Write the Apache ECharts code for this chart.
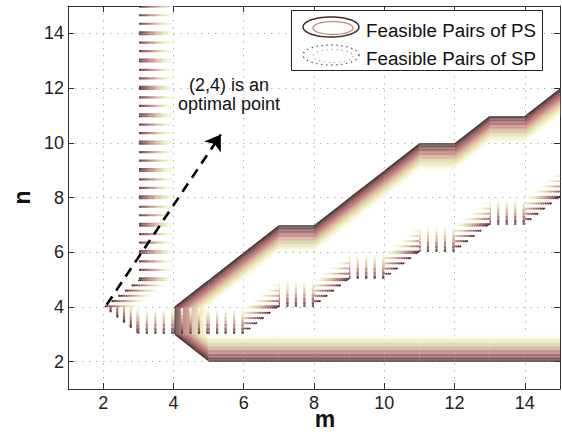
<!DOCTYPE html>
<html>
<head>
<meta charset="utf-8">
<script src="https://cdn.jsdelivr.net/npm/echarts@6/dist/echarts.min.js"></script>
<style>
  html, body { margin: 0; padding: 0; background: #fff; }
  #chart { width: 562px; height: 437px; }
</style>
</head>
<body>
<div id="chart"></div>
<script>
// Integer grid of (m, n) pairs
const mValues = [1, 2, 3, 4, 5, 6, 7, 8, 9, 10, 11, 12, 13, 14, 15];
const nValues = [1, 2, 3, 4, 5, 6, 7, 8, 9, 10, 11, 12, 13, 14, 15];

// Feasible n range for every m (null: no feasible n for that m)
const psLowestN  = [null, null, null, null, 3, 3, 3, 3, 3, 3, 3, 3, 3, 3, 3];
const psHighestN = [null, null, null, null, 4, 5, 6, 6, 7, 8, 9, 9, 10, 10, 11];
const spLowestN  = [null, null, 4, 4, 4, 4, 5, 5, 6, 6, 7, 7, 8, 8, 9];
const spHighestN = [null, null, 4, 15, 15, 15, 15, 15, 15, 15, 15, 15, 15, 15, 15];

// Contour levels of the 0/1 feasibility surface
const contourLevels = [0.05, 0.1, 0.15, 0.2, 0.25, 0.3, 0.35, 0.4, 0.45, 0.5,
                       0.55, 0.6, 0.65, 0.7, 0.75, 0.8, 0.85, 0.9, 0.95];

// Axis ticks
const mTicks = [2, 4, 6, 8, 10, 12, 14];
const nTicks = [2, 4, 6, 8, 10, 12, 14];

// Annotation
const arrowFrom = [2.1, 4.08];
const arrowTo = [5.35, 10.3];
const noteLines = ['(2,4) is an', 'optimal point'];
const legendLabels = ['Feasible Pairs of PS', 'Feasible Pairs of SP'];

const FONT = '"Liberation Sans", Arial, Helvetica, sans-serif';

function feasibility(lowest, highest) {
  return nValues.map(n => mValues.map((m, i) =>
    (lowest[i] !== null && n >= lowest[i] && n <= highest[i]) ? 1 : 0));
}

// Marching squares with linear interpolation along cell edges
function contourSegments(grid, level) {
  const segs = [];
  for (let j = 0; j < nValues.length - 1; j++) {
    for (let i = 0; i < mValues.length - 1; i++) {
      const v00 = grid[j][i], v10 = grid[j][i + 1];
      const v01 = grid[j + 1][i], v11 = grid[j + 1][i + 1];
      const x0 = mValues[i], x1 = mValues[i + 1];
      const y0 = nValues[j], y1 = nValues[j + 1];
      const pts = [];
      const edge = (va, vb, pa, pb) => {
        if ((va < level) !== (vb < level)) {
          const t = (level - va) / (vb - va);
          pts.push([pa[0] + t * (pb[0] - pa[0]), pa[1] + t * (pb[1] - pa[1])]);
        }
      };
      edge(v00, v10, [x0, y0], [x1, y0]); // bottom
      edge(v10, v11, [x1, y0], [x1, y1]); // right
      edge(v01, v11, [x0, y1], [x1, y1]); // top
      edge(v00, v01, [x0, y0], [x0, y1]); // left
      if (pts.length === 2) segs.push([pts[0], pts[1]]);
      else if (pts.length === 4) { segs.push([pts[0], pts[3]]); segs.push([pts[1], pts[2]]); }
    }
  }
  return segs;
}

// MATLAB-like "pink" colormap (64 entries)
function pinkColor(t) {
  const N = 64, k = Math.round(t * (N - 1));
  const n3 = Math.floor(3 / 8 * N);
  const gray = k / (N - 1);
  const hr = k < n3 ? (k + 1) / n3 : 1;
  const hg = k < n3 ? 0 : (k < 2 * n3 ? (k - n3 + 1) / n3 : 1);
  const hb = k < 2 * n3 ? 0 : (k - 2 * n3 + 1) / (N - 2 * n3);
  const f = v => Math.round(255 * Math.sqrt((2 * gray + v) / 3));
  return 'rgb(' + f(hr) + ',' + f(hg) + ',' + f(hb) + ')';
}

const psGrid = feasibility(psLowestN, psHighestN);
const spGrid = feasibility(spLowestN, spHighestN);

const series = [];
contourLevels.forEach(c => {
  series.push({
    type: 'lines', coordinateSystem: 'cartesian2d', silent: true, z: 2,
    animation: false,
    data: contourSegments(psGrid, c).map(s => ({ coords: s })),
    lineStyle: { color: pinkColor(c), width: 1.6, opacity: 1, type: 'solid' }
  });
});
contourLevels.forEach(c => {
  series.push({
    type: 'lines', coordinateSystem: 'cartesian2d', silent: true, z: 3,
    animation: false,
    data: contourSegments(spGrid, c).map(s => ({ coords: s })),
    lineStyle: { color: pinkColor(c), width: 1.7, opacity: 1, type: [2.2, 6.3], cap: 'butt' }
  });
});
// Dashed arrow towards the note
series.push({
  type: 'lines', coordinateSystem: 'cartesian2d', silent: true, z: 5,
  animation: false,
  symbol: ['none', 'arrow'], symbolSize: 15,
  data: [{ coords: [arrowFrom, arrowTo] }],
  lineStyle: { color: '#000', width: 2.6, opacity: 1, type: [10, 7] }
});

function ellipsePoints(cx, cy, rx, ry) {
  const pts = [];
  for (let k = 0; k < 60; k++) {
    const a = k / 60 * Math.PI * 2;
    pts.push([cx + rx * Math.cos(a), cy + ry * Math.sin(a)]);
  }
  return pts;
}

const chart = echarts.init(document.getElementById('chart'), null, { renderer: 'svg' });

const axisCommon = {
  type: 'value', min: 1, max: 15, splitNumber: 7,
  axisLine: { show: true, lineStyle: { color: '#333', width: 1 } },
  axisTick: { show: true, inside: true, length: 6, lineStyle: { color: '#333' }, customValues: mTicks }
};

chart.setOption({
  animation: false,
  backgroundColor: '#fff',
  textStyle: { fontFamily: FONT },
  grid: { left: 68, right: 2, top: 6, bottom: 48, containLabel: false, outerBoundsMode: 'none' },
  xAxis: [
    Object.assign({}, axisCommon, {
      position: 'bottom',
      name: 'm', nameLocation: 'middle', nameGap: 24, nameMoveOverlap: false,
      nameTextStyle: { fontSize: 23, lineHeight: 12, fontWeight: 'bold', color: '#111', fontFamily: FONT, padding: [0, 0, 0, 22] },
      axisLabel: { show: true, fontSize: 18, lineHeight: 12, color: '#222', margin: 8, customValues: mTicks, fontFamily: FONT },
      splitLine: { show: true, lineStyle: { color: '#b4b4b4', type: [1.5, 5.5], width: 1 } }
    }),
    Object.assign({}, axisCommon, {
      position: 'top', axisLabel: { show: false }, splitLine: { show: false }
    })
  ],
  yAxis: [
    Object.assign({}, axisCommon, {
      position: 'left',
      axisTick: { show: true, inside: true, length: 6, lineStyle: { color: '#333' }, customValues: nTicks },
      name: 'n', nameLocation: 'middle', nameGap: 35, nameMoveOverlap: false,
      nameTextStyle: { fontSize: 23, fontWeight: 'bold', color: '#111', fontFamily: FONT },
      axisLabel: { show: true, fontSize: 18, color: '#222', margin: 4, customValues: nTicks, fontFamily: FONT },
      splitLine: { show: true, lineStyle: { color: '#b4b4b4', type: [1.5, 5.5], width: 1 } }
    }),
    Object.assign({}, axisCommon, {
      position: 'right',
      axisTick: { show: true, inside: true, length: 6, lineStyle: { color: '#333' }, customValues: nTicks },
      axisLabel: { show: false }, splitLine: { show: false }
    })
  ],
  series: series,
  graphic: [
    { type: 'rect', z: 100, shape: { x: 291.5, y: 10.5, width: 251, height: 60 },
      style: { fill: '#fff', stroke: '#222', lineWidth: 1 } },
    { type: 'polygon', z: 101, shape: { points: ellipsePoints(331, 27, 28, 10) },
      style: { fill: 'none', stroke: '#3c2c2c', lineWidth: 1.5 } },
    { type: 'polygon', z: 101, shape: { points: ellipsePoints(333, 28, 20, 6.5) },
      style: { fill: 'none', stroke: '#c38d7d', lineWidth: 1.3 } },
    { type: 'polygon', z: 101, shape: { points: ellipsePoints(331, 55, 28, 10) },
      style: { fill: 'none', stroke: '#555', lineWidth: 1.3, lineDash: [1.4, 3.6] } },
    { type: 'polygon', z: 101, shape: { points: ellipsePoints(333, 56, 20, 6.5) },
      style: { fill: 'none', stroke: '#c9a090', lineWidth: 1.2, lineDash: [1.4, 3.6] } },
    { type: 'text', z: 101, x: 366, y: 30,
      style: { text: legendLabels[0], font: '18.8px ' + FONT, fill: '#111', verticalAlign: 'middle' } },
    { type: 'text', z: 101, x: 366, y: 58,
      style: { text: legendLabels[1], font: '18.8px ' + FONT, fill: '#111', verticalAlign: 'middle' } },
    { type: 'text', z: 101, x: 229, y: 85,
      style: { text: noteLines[0], font: '18px ' + FONT, fill: '#111', align: 'center', verticalAlign: 'middle' } },
    { type: 'text', z: 101, x: 229, y: 104,
      style: { text: noteLines[1], font: '18px ' + FONT, fill: '#111', align: 'center', verticalAlign: 'middle' } }
  ]
});
</script>
</body>
</html>
